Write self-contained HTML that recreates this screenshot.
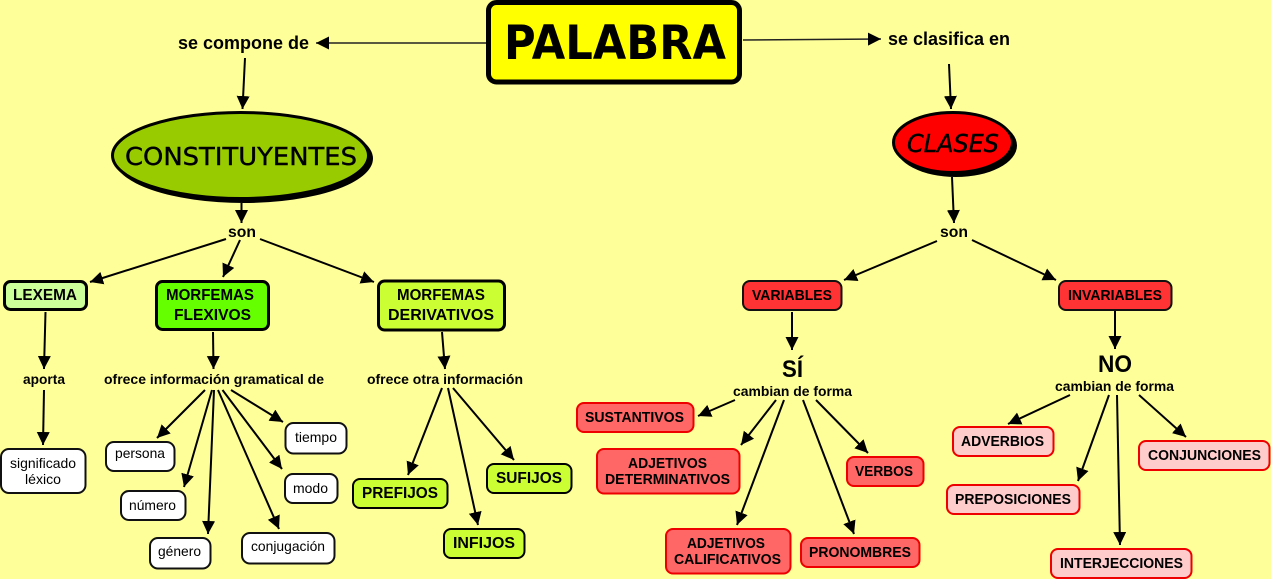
<!DOCTYPE html>
<html lang="es">
<head>
<meta charset="utf-8">
<title>PALABRA</title>
<style>
html,body{margin:0;padding:0;background:#ffff99;}
svg{display:block;}
text{font-family:"Liberation Sans",sans-serif;fill:#000;}
.b{font-weight:700;font-size:15.4px;}
.l{font-weight:700;font-size:18px;}
.s{font-weight:700;font-size:16px;}
.t{font-weight:700;font-size:14px;}
.lt{font-weight:700;font-size:14.3px;}
.r{font-size:14px;}
.n{fill:#fff;stroke:#111;stroke-width:2;}
.lnk{stroke:#000;stroke-width:2;fill:none;marker-end:url(#a);}
.thin{stroke:#222;stroke-width:1.5;fill:none;marker-end:url(#a);}
.g{fill:#ccff33;stroke:#000;stroke-width:2;}
.rd{fill:#ff6666;stroke:#ee0000;stroke-width:2;}
.pk{fill:#ffcccc;stroke:#ee0000;stroke-width:2;}
.rv{fill:#ff3333;stroke:#111;stroke-width:2;}
</style>
</head>
<body>
<svg width="1271" height="579" viewBox="0 0 1271 579" xmlns="http://www.w3.org/2000/svg">
<defs>
<marker id="a" markerUnits="userSpaceOnUse" markerWidth="15" markerHeight="15" refX="13" refY="6.5" orient="auto">
<path d="M0,0 L13,6.5 L0,13 Z" fill="#000"/>
</marker>
</defs>
<rect width="1271" height="579" fill="#ffff99"/>

<!-- connectors -->
<line class="thin" x1="486" y1="43" x2="316" y2="43"/>
<line class="lnk" x1="245" y1="58" x2="242.5" y2="109"/>
<line class="lnk" x1="241.5" y1="203" x2="241.5" y2="223"/>
<line class="lnk" x1="226" y1="239" x2="90" y2="282"/>
<line class="lnk" x1="240" y1="240" x2="223" y2="277"/>
<line class="lnk" x1="260" y1="239" x2="374" y2="282"/>
<line class="lnk" x1="45.5" y1="312" x2="44" y2="369"/>
<line class="lnk" x1="44" y1="390" x2="43" y2="445"/>
<line class="lnk" x1="213" y1="332" x2="213.5" y2="369"/>
<line class="lnk" x1="205" y1="390" x2="157" y2="438"/>
<line class="lnk" x1="212" y1="390" x2="184" y2="487"/>
<line class="lnk" x1="214" y1="390" x2="208" y2="534"/>
<line class="lnk" x1="218" y1="390" x2="279" y2="529"/>
<line class="lnk" x1="222.5" y1="390" x2="282" y2="469"/>
<line class="lnk" x1="231" y1="390" x2="283" y2="422"/>
<line class="lnk" x1="442" y1="332" x2="445" y2="369"/>
<line class="lnk" x1="442" y1="388" x2="408" y2="475"/>
<line class="lnk" x1="448" y1="388" x2="478" y2="525"/>
<line class="lnk" x1="453" y1="388" x2="514" y2="460"/>

<line class="thin" x1="743" y1="40" x2="881" y2="39"/>
<line class="lnk" x1="949" y1="64" x2="951" y2="109"/>
<line class="lnk" x1="952" y1="177" x2="954" y2="223"/>
<line class="lnk" x1="937" y1="241" x2="844" y2="280"/>
<line class="lnk" x1="972" y1="240" x2="1056" y2="280"/>
<line class="lnk" x1="792" y1="312" x2="792" y2="350"/>
<line class="lnk" x1="1115" y1="311" x2="1115" y2="349"/>
<line class="lnk" x1="735" y1="400" x2="698" y2="416"/>
<line class="lnk" x1="776" y1="400" x2="741" y2="445"/>
<line class="lnk" x1="784" y1="400" x2="737" y2="525"/>
<line class="lnk" x1="803" y1="400" x2="854" y2="534"/>
<line class="lnk" x1="816" y1="400" x2="868" y2="453"/>
<line class="lnk" x1="1070" y1="395" x2="1008" y2="424"/>
<line class="lnk" x1="1109" y1="395" x2="1078" y2="481"/>
<line class="lnk" x1="1117" y1="395" x2="1120" y2="545"/>
<line class="lnk" x1="1139" y1="395" x2="1186" y2="437"/>

<!-- PALABRA -->
<rect x="488.5" y="2.5" width="251" height="79.5" rx="8" fill="#ffff00" stroke="#000" stroke-width="5"/>
<text x="504" y="59" font-size="47" style="font-family:'DejaVu Sans',sans-serif;font-weight:700" textLength="222" lengthAdjust="spacingAndGlyphs">PALABRA</text>

<!-- link labels -->
<text class="l" x="178" y="49" textLength="131" lengthAdjust="spacingAndGlyphs">se compone de</text>
<text class="l" x="888" y="45" textLength="122" lengthAdjust="spacingAndGlyphs">se clasifica en</text>
<text class="s" x="228" y="237" textLength="28" lengthAdjust="spacingAndGlyphs">son</text>
<text class="s" x="940" y="237" textLength="28" lengthAdjust="spacingAndGlyphs">son</text>
<text class="t" x="23" y="384" textLength="42" lengthAdjust="spacingAndGlyphs">aporta</text>
<text class="t" x="104" y="384" textLength="220" lengthAdjust="spacingAndGlyphs">ofrece información gramatical de</text>
<text class="t" x="367" y="384" textLength="156" lengthAdjust="spacingAndGlyphs">ofrece otra información</text>
<text class="t" x="733" y="396" textLength="119" lengthAdjust="spacingAndGlyphs">cambian de forma</text>
<text class="t" x="1055" y="391" textLength="119" lengthAdjust="spacingAndGlyphs">cambian de forma</text>
<text x="782" y="377" font-size="24" font-weight="700" textLength="21" lengthAdjust="spacingAndGlyphs">SÍ</text>
<text x="1098" y="372" font-size="24" font-weight="700" textLength="34" lengthAdjust="spacingAndGlyphs">NO</text>

<!-- ellipses -->
<ellipse cx="243.5" cy="158.5" rx="129.5" ry="44.5" fill="#000"/>
<ellipse cx="240.5" cy="155.5" rx="128" ry="43" fill="#99cc00" stroke="#000" stroke-width="3"/>
<text x="125" y="165" font-size="25" style="font-family:'DejaVu Sans',sans-serif" stroke="#000" stroke-width=".4" textLength="232" lengthAdjust="spacingAndGlyphs">CONSTITUYENTES</text>
<ellipse cx="956" cy="145.5" rx="61" ry="31.5" fill="#000"/>
<ellipse cx="953" cy="142.5" rx="59.5" ry="30" fill="#ff0000" stroke="#000" stroke-width="3"/>
<text x="907" y="152" font-size="25" font-style="italic" style="font-family:'DejaVu Sans',sans-serif" stroke="#000" stroke-width=".4" textLength="92" lengthAdjust="spacingAndGlyphs">CLASES</text>

<!-- left concept boxes -->
<rect x="4.5" y="281.5" width="82" height="28" rx="6" fill="#ccff99" stroke="#000" stroke-width="3"/>
<text class="b" x="13" y="300" textLength="64" lengthAdjust="spacingAndGlyphs">LEXEMA</text>
<rect x="156.5" y="281.5" width="112" height="48" rx="6" fill="#66ff00" stroke="#000" stroke-width="3"/>
<text class="b" x="166" y="300" textLength="88" lengthAdjust="spacingAndGlyphs">MORFEMAS</text>
<text class="b" x="174" y="320" textLength="77" lengthAdjust="spacingAndGlyphs">FLEXIVOS</text>
<rect x="378.5" y="281" width="126" height="49" rx="6" fill="#ccff33" stroke="#000" stroke-width="3"/>
<text class="b" x="397" y="300" textLength="88" lengthAdjust="spacingAndGlyphs">MORFEMAS</text>
<text class="b" x="388" y="320" textLength="106" lengthAdjust="spacingAndGlyphs">DERIVATIVOS</text>

<!-- white boxes -->
<rect class="n" x="1" y="449" width="84.5" height="44" rx="8"/>
<text class="r" x="10" y="468" textLength="66" lengthAdjust="spacingAndGlyphs">significado</text>
<text class="r" x="25" y="484" textLength="36" lengthAdjust="spacingAndGlyphs">léxico</text>
<rect class="n" x="285.5" y="423" width="61" height="30.5" rx="8"/>
<text class="r" x="295" y="442" textLength="42" lengthAdjust="spacingAndGlyphs">tiempo</text>
<rect class="n" x="106" y="442" width="68.5" height="29" rx="8"/>
<text class="r" x="115" y="458" textLength="50" lengthAdjust="spacingAndGlyphs">persona</text>
<rect class="n" x="285" y="474" width="52.5" height="29" rx="8"/>
<text class="r" x="293" y="493" textLength="35" lengthAdjust="spacingAndGlyphs">modo</text>
<rect class="n" x="121" y="491" width="64.5" height="29" rx="8"/>
<text class="r" x="129" y="510" textLength="47" lengthAdjust="spacingAndGlyphs">número</text>
<rect class="n" x="242" y="533" width="92.5" height="30.5" rx="8"/>
<text class="r" x="251" y="551" textLength="74" lengthAdjust="spacingAndGlyphs">conjugación</text>
<rect class="n" x="150" y="538" width="60.5" height="30.5" rx="8"/>
<text class="r" x="158" y="556" textLength="43" lengthAdjust="spacingAndGlyphs">género</text>

<!-- green boxes -->
<rect class="g" x="487" y="464" width="84.5" height="29" rx="7"/>
<text class="b" x="496" y="483" textLength="66" lengthAdjust="spacingAndGlyphs">SUFIJOS</text>
<rect class="g" x="353" y="479" width="94.5" height="29" rx="7"/>
<text class="b" x="362" y="498" textLength="76" lengthAdjust="spacingAndGlyphs">PREFIJOS</text>
<rect class="g" x="444" y="529" width="80.5" height="29" rx="7"/>
<text class="b" x="453" y="548" textLength="62" lengthAdjust="spacingAndGlyphs">INFIJOS</text>

<!-- red boxes -->
<rect class="rv" x="743" y="281" width="98.5" height="29" rx="7"/>
<text class="lt" x="752" y="300" textLength="80" lengthAdjust="spacingAndGlyphs">VARIABLES</text>
<rect class="rv" x="1059" y="281" width="112.5" height="29" rx="7"/>
<text class="lt" x="1068" y="300" textLength="94" lengthAdjust="spacingAndGlyphs">INVARIABLES</text>

<rect class="rd" x="577" y="403" width="116.5" height="29" rx="7"/>
<text class="lt" x="585" y="422" textLength="99" lengthAdjust="spacingAndGlyphs">SUSTANTIVOS</text>
<rect class="rd" x="597" y="449" width="142.5" height="44.5" rx="7"/>
<text class="lt" x="628" y="468" textLength="79" lengthAdjust="spacingAndGlyphs">ADJETIVOS</text>
<text class="lt" x="605" y="484" textLength="125" lengthAdjust="spacingAndGlyphs">DETERMINATIVOS</text>
<rect class="rd" x="847" y="457" width="76.5" height="29" rx="7"/>
<text class="lt" x="855" y="476" textLength="58" lengthAdjust="spacingAndGlyphs">VERBOS</text>
<rect class="rd" x="666" y="529" width="124.5" height="44.5" rx="7"/>
<text class="lt" x="687" y="548" textLength="78" lengthAdjust="spacingAndGlyphs">ADJETIVOS</text>
<text class="lt" x="674" y="564" textLength="107" lengthAdjust="spacingAndGlyphs">CALIFICATIVOS</text>
<rect class="rd" x="801" y="538" width="118.5" height="29" rx="7"/>
<text class="lt" x="809" y="557" textLength="102" lengthAdjust="spacingAndGlyphs">PRONOMBRES</text>

<!-- pink boxes -->
<rect class="pk" x="953" y="427" width="100.5" height="29" rx="7"/>
<text class="lt" x="961" y="446" textLength="83" lengthAdjust="spacingAndGlyphs">ADVERBIOS</text>
<rect class="pk" x="947" y="485" width="132.5" height="29" rx="7"/>
<text class="lt" x="955" y="504" textLength="116" lengthAdjust="spacingAndGlyphs">PREPOSICIONES</text>
<rect class="pk" x="1051" y="549" width="140.5" height="29" rx="7"/>
<text class="lt" x="1060" y="568" textLength="123" lengthAdjust="spacingAndGlyphs">INTERJECCIONES</text>
<rect class="pk" x="1139" y="441" width="130.5" height="29" rx="7"/>
<text class="lt" x="1148" y="460" textLength="113" lengthAdjust="spacingAndGlyphs">CONJUNCIONES</text>
</svg>
</body>
</html>
